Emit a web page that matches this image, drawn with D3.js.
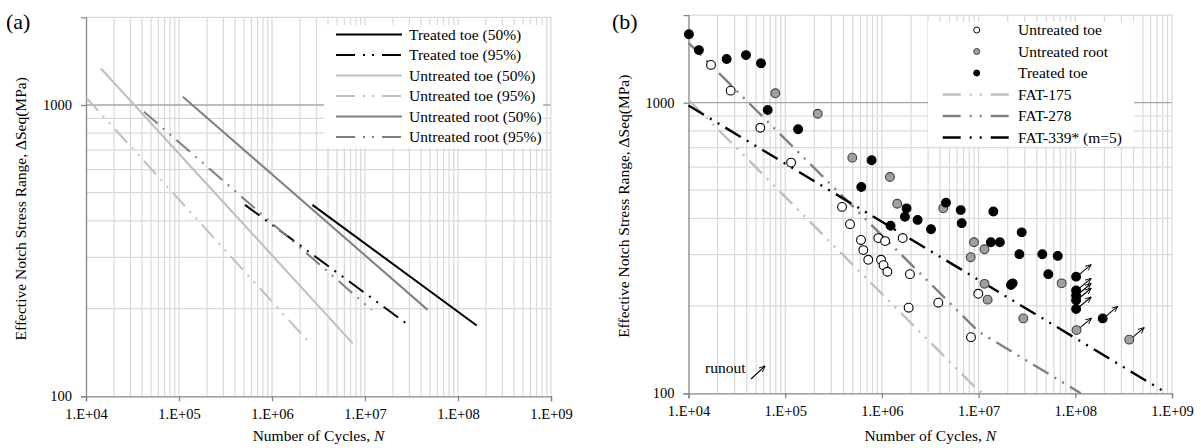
<!DOCTYPE html>
<html>
<head>
<meta charset="utf-8">
<script src="https://cdn.jsdelivr.net/npm/d3@7"></script>
<style>
  body { margin: 0; background: #fff; }
  svg text { font-family: 'Liberation Serif', 'Times New Roman', serif; font-size: 15.5px; fill: #000; }
  svg .tick text { font-size: 14.5px; }
</style>
</head>
<body>
<script>
var width = 1201,
    height = 448;

// ---- panel (a): S-N curves, end points [N, S] ----
var treatedToe50 = [[2.72e6, 454], [1.59e8, 175]];
var treatedToe95 = [[5.13e5, 454], [3.05e7, 174]];
var untreatedToe50 = [[1.44e4, 1337], [7.38e6, 152]];
var untreatedToe95 = [[1.0e4, 1062], [2.56e6, 152]];
var untreatedRoot50 = [[1.10e5, 1068], [4.72e7, 198]];
var untreatedRoot95 = [[4.2e4, 948], [1.18e7, 198]];
var legendA = ['Treated toe (50%)', 'Treated toe (95%)', 'Untreated toe (50%)',
  'Untreated toe (95%)', 'Untreated root (50%)', 'Untreated root (95%)'];

// ---- panel (b): test results ----
var untreatedToeN = [1.71e4, 2.73e4, 5.53e4, 1.15e5, 3.87e5, 4.68e5, 6.08e5, 6.42e5, 7.23e5, 9.18e5,
  1.08e6, 9.8e5, 1.04e6, 1.14e6, 1.64e6, 1.95e6, 1.89e6, 3.83e6, 8.34e6, 9.93e6];
var untreatedToeS = [1349, 1100, 820, 622, 438, 382, 337, 311, 288, 342,
  334, 288, 276, 262, 342, 257, 197, 205, 156, 220];

var untreatedRootN = [7.9e4, 2.17e5, 4.94e5, 1.21e6, 1.44e6, 4.31e6, 8.96e6, 8.28e6, 1.15e7, 7.23e7,
  1.15e7, 1.24e7, 2.9e7, 1.03e8, 3.61e8];
var untreatedRootS = [1077, 916, 647, 555, 449, 433, 331, 294, 313, 239,
  238, 210, 181, 165, 153];
var untreatedRootRunout = [0, 0, 0, 0, 0, 0, 0, 0, 0, 0, 0, 0, 0, 1, 1];

var treatedToeN = [1.01e4, 1.28e4, 2.48e4, 3.93e4, 5.62e4, 6.59e4, 1.36e5, 7.83e5, 6.12e5, 1.80e6,
  1.73e6, 1.23e6, 2.34e6, 3.22e6, 4.6e6, 6.53e6, 6.69e6, 1.42e7, 1.34e7, 1.66e7,
  2.79e7, 2.64e7, 4.56e7, 6.58e7, 5.26e7, 2.16e7, 2.25e7,
  1.02e8, 1.02e8, 1.02e8, 1.02e8, 1.02e8, 1.92e8];
var treatedToeS = [1719, 1517, 1413, 1458, 1366, 944, 810, 634, 513, 433,
  405, 377, 395, 367, 453, 427, 385, 422, 331, 331,
  358, 301, 301, 297, 257, 236, 239,
  252, 226, 217, 209, 195, 181];
var treatedToeRunout = [0, 0, 0, 0, 0, 0, 0, 0, 0, 0, 0, 0, 0, 0, 0, 0, 0, 0, 0, 0,
  0, 0, 0, 0, 0, 0, 0, 1, 1, 1, 1, 1, 1];

// design curves [N, S]
var fat175 = [[1e4, 1023], [1e7, 102], [1.12e7, 100]];
var fat278 = [[1e4, 1607], [1e7, 163], [1.14e8, 100]];
var fat339 = [[1e4, 978], [8.9e8, 100]];
var legendB = ['Untreated toe', 'Untreated root', 'Treated toe', 'FAT-175', 'FAT-278', 'FAT-339* (m=5)'];

var xTickValues = [1e4, 1e5, 1e6, 1e7, 1e8, 1e9];
var xTickLabels = ['1.E+04', '1.E+05', '1.E+06', '1.E+07', '1.E+08', '1.E+09'];
var yTickValues = [100, 1000];
var yTickLabels = ['100', '1000'];

var svg = d3.select('body').append('svg')
    .attr('width', width)
    .attr('height', height);

var defs = svg.append('defs');
defs.append('marker')
    .attr('id', 'arrow')
    .attr('viewBox', '0 0 10 10')
    .attr('refX', 9).attr('refY', 5)
    .attr('markerWidth', 6).attr('markerHeight', 6)
    .attr('orient', 'auto')
  .append('path')
    .attr('d', 'M0,1 L9,5 L0,9')
    .attr('fill', 'none')
    .attr('stroke', '#000')
    .attr('stroke-width', 1.3);

var dashDot = '18,7,2,7,2,7';
var lightGrey = '#bfbfbf', midGrey = '#808080';

// draw grid, axes and titles for one panel
function drawFrame(x, y, tag, tagX) {
  var g = svg.append('g');
  var x0 = x.range()[0], x1 = x.range()[1],
      y0 = y.range()[0], y1 = y.range()[1];

  var xGrid = [];
  for (var d = 4; d <= 8; d++) {
    for (var k = 1; k <= 9; k++) {
      if (d === 4 && k === 1) continue;
      xGrid.push(k * Math.pow(10, d));
    }
  }
  var yGrid = [200, 300, 400, 500, 600, 700, 800, 900];

  g.selectAll('.vg').data(xGrid).enter().append('line')
      .attr('x1', function(v) { return x(v); }).attr('x2', function(v) { return x(v); })
      .attr('y1', y0).attr('y2', y1)
      .attr('stroke', '#d9d9d9').attr('stroke-width', 1.2);
  g.selectAll('.hg').data(yGrid).enter().append('line')
      .attr('x1', x0).attr('x2', x1)
      .attr('y1', function(v) { return y(v); }).attr('y2', function(v) { return y(v); })
      .attr('stroke', '#d9d9d9').attr('stroke-width', 1.2);
  g.append('line')
      .attr('x1', x0).attr('x2', x1)
      .attr('y1', y(1000)).attr('y2', y(1000))
      .attr('stroke', '#a6a6a6').attr('stroke-width', 1.3);

  // top and right border
  g.append('path')
      .attr('d', 'M' + x0 + ',' + y1 + 'H' + x1 + 'V' + y0)
      .attr('fill', 'none').attr('stroke', '#d9d9d9').attr('stroke-width', 1.2);

  var xAxis = d3.axisBottom(x)
      .tickValues(xTickValues)
      .tickFormat(function(v, i) { return xTickLabels[i]; })
      .tickSize(5).tickPadding(7);
  var yAxis = d3.axisLeft(y)
      .tickValues(yTickValues)
      .tickFormat(function(v, i) { return yTickLabels[i]; })
      .tickSize(5).tickPadding(9);

  var gx = g.append('g').attr('transform', 'translate(0,' + y0 + ')').call(xAxis);
  var gy = g.append('g').attr('transform', 'translate(' + x0 + ',0)').call(yAxis);
  [gx, gy].forEach(function(a) {
    a.attr('font-size', null).attr('font-family', null);
    a.select('.domain').attr('stroke', '#868686').attr('stroke-width', 1.3);
    a.selectAll('.tick line').attr('stroke', '#868686').attr('stroke-width', 1.3);
  });

  // axis titles
  var xt = g.append('text')
      .attr('x', (x0 + x1) / 2).attr('y', 441)
      .attr('text-anchor', 'middle');
  xt.append('tspan').text('Number of Cycles, ');
  xt.append('tspan').attr('font-style', 'italic').text('N');

  g.append('text')
      .attr('transform', 'translate(' + (x0 - 60) + ',' + ((y0 + y1) / 2 + 2) + ') rotate(-90)')
      .attr('text-anchor', 'middle')
      .text('Effective Notch Stress Range, \u0394Seq(MPa)');

  g.append('text')
      .attr('x', tagX).attr('y', 29)
      .style('font-size', '22px')
      .text(tag);
  return g;
}

// ================= panel (a) =================
var xA = d3.scaleLog().domain([1e4, 1e9]).range([86, 551]);
var yA = d3.scaleLog().domain([100, 2000]).range([396.3, 17.3]);
drawFrame(xA, yA, '(a)', 6);

var line = function(x, y) {
  return d3.line().x(function(d) { return x(d[0]); }).y(function(d) { return y(d[1]); });
};
var lineA = line(xA, yA);

var seriesA = [
  {data: treatedToe50, color: '#000', dash: null},
  {data: treatedToe95, color: '#000', dash: dashDot},
  {data: untreatedToe50, color: lightGrey, dash: null},
  {data: untreatedToe95, color: lightGrey, dash: dashDot},
  {data: untreatedRoot50, color: midGrey, dash: null},
  {data: untreatedRoot95, color: midGrey, dash: dashDot}
];

var legA = svg.append('g');
legA.append('rect')
    .attr('x', 324).attr('y', 25).attr('width', 219).attr('height', 123)
    .attr('fill', '#fff');

svg.append('g').selectAll('path')
    .data(seriesA).enter().append('path')
    .attr('d', function(s) { return lineA(s.data); })
    .attr('fill', 'none')
    .attr('stroke', function(s) { return s.color; })
    .attr('stroke-width', 2)
    .attr('stroke-dasharray', function(s) { return s.dash; });

seriesA.forEach(function(s, i) {
  var ly = 34.5 + i * 20.5;
  legA.append('line')
      .attr('x1', 336).attr('x2', 402).attr('y1', ly).attr('y2', ly)
      .attr('stroke', s.color).attr('stroke-width', 2)
      .attr('stroke-dasharray', s.dash ? '19,8,2,7,2,8' : null);
  legA.append('text')
      .attr('x', 409).attr('y', ly).attr('dy', '0.35em')
      .text(legendA[i]);
});

// ================= panel (b) =================
var xB = d3.scaleLog().domain([1e4, 1e9]).range([688.5, 1172]);
var yB = d3.scaleLog().domain([100, 2000]).range([393.3, 15.2]);
drawFrame(xB, yB, '(b)', 612);

var lineB = line(xB, yB);

var legB = svg.append('g');
legB.append('rect')
    .attr('x', 928).attr('y', 22).attr('width', 206).attr('height', 125)
    .attr('fill', '#fff');

var curvesB = [
  {data: fat175, color: lightGrey},
  {data: fat278, color: midGrey},
  {data: fat339, color: '#000'}
];
svg.append('g').selectAll('path')
    .data(curvesB).enter().append('path')
    .attr('d', function(s) { return lineB(s.data); })
    .attr('fill', 'none')
    .attr('stroke', function(s) { return s.color; })
    .attr('stroke-width', 2.4)
    .attr('stroke-dasharray', dashDot);

var pointsB = [
  {n: untreatedToeN, s: untreatedToeS, runout: null, fill: '#fff', stroke: '#000'},
  {n: untreatedRootN, s: untreatedRootS, runout: untreatedRootRunout, fill: '#a0a0a0', stroke: '#404040'},
  {n: treatedToeN, s: treatedToeS, runout: treatedToeRunout, fill: '#000', stroke: '#000'}
];

var gPts = svg.append('g');
pointsB.forEach(function(p) {
  var rows = p.n.map(function(n, i) {
    return {n: n, s: p.s[i], r: p.runout ? p.runout[i] : 0};
  });
  // runout arrows
  gPts.selectAll(null)
      .data(rows.filter(function(d) { return d.r; }))
      .enter().append('line')
      .attr('x1', function(d) { return xB(d.n) + 3; })
      .attr('y1', function(d) { return yB(d.s) - 2; })
      .attr('x2', function(d) { return xB(d.n) + 15; })
      .attr('y2', function(d) { return yB(d.s) - 12; })
      .attr('stroke', '#000').attr('stroke-width', 1.1)
      .attr('marker-end', 'url(#arrow)');
  gPts.selectAll(null)
      .data(rows).enter().append('circle')
      .attr('cx', function(d) { return xB(d.n); })
      .attr('cy', function(d) { return yB(d.s); })
      .attr('r', 4.4)
      .attr('fill', p.fill)
      .attr('stroke', p.stroke)
      .attr('stroke-width', 1.1);
});

// runout key
svg.append('text')
    .attr('x', 705).attr('y', 373)
    .text('runout');
svg.append('line')
    .attr('x1', 751).attr('y1', 379).attr('x2', 765).attr('y2', 366)
    .attr('stroke', '#000').attr('stroke-width', 1.1)
    .attr('marker-end', 'url(#arrow)');

// legend (b)
pointsB.forEach(function(p, i) {
  var ly = 30 + i * 21.5;
  legB.append('circle')
      .attr('cx', 976.7).attr('cy', ly).attr('r', 3)
      .attr('fill', p.fill).attr('stroke', p.stroke).attr('stroke-width', 1);
});
curvesB.forEach(function(c, i) {
  var ly = 30 + (i + 3) * 21.5;
  legB.append('line')
      .attr('x1', 942.7).attr('x2', 1010).attr('y1', ly).attr('y2', ly)
      .attr('stroke', c.color).attr('stroke-width', 2.4)
      .attr('stroke-dasharray', '18,9,2,8,2,9');
});
legendB.forEach(function(t, i) {
  legB.append('text')
      .attr('x', 1018).attr('y', 30 + i * 21.5).attr('dy', '0.35em')
      .text(t);
});
</script>
</body>
</html>
